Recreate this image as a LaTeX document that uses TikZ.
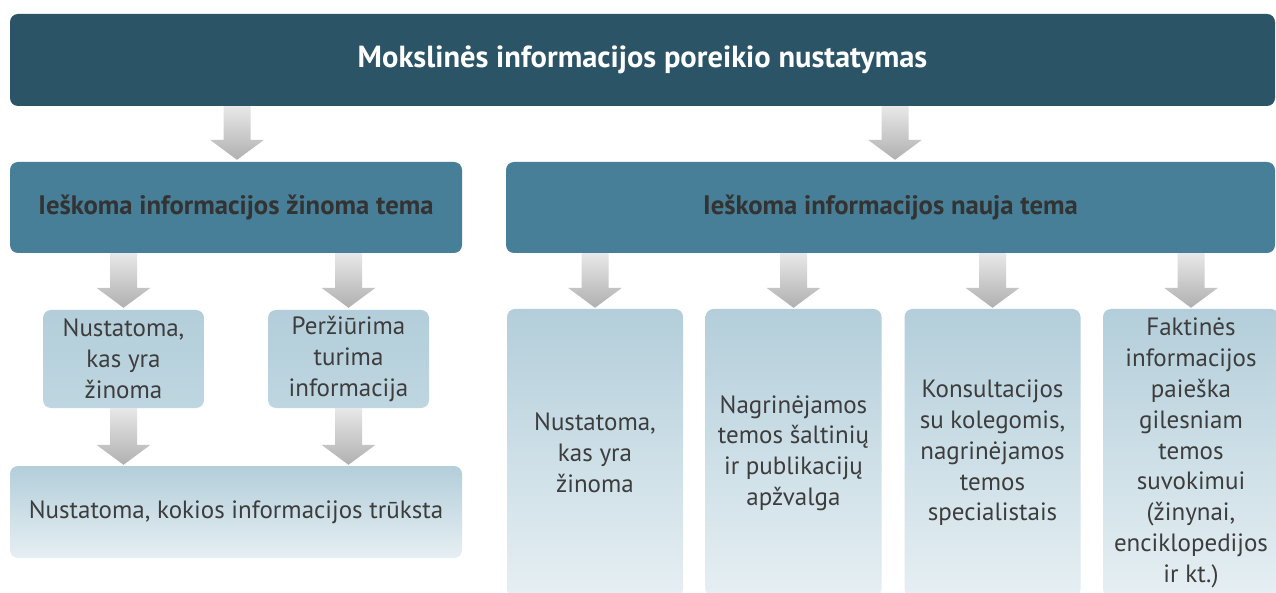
\documentclass[tikz,border=0pt]{standalone}
\usepackage{fontspec}
\setmainfont{PT Sans}
\usetikzlibrary{calc}
\definecolor{bannerc}{HTML}{2C5467}
\definecolor{secc}{HTML}{467F97}
\definecolor{sectext}{HTML}{333333}
\definecolor{bodytext}{HTML}{3D3D3D}
\definecolor{lighttop}{HTML}{B3CEDA}
\definecolor{lightbot}{HTML}{E6EFF3}
\definecolor{smalltop}{HTML}{B3CEDA}
\definecolor{smallbot}{HTML}{BED6E0}
\definecolor{arrtop}{HTML}{E8E8E8}
\definecolor{arrbot}{HTML}{B0B0B0}
\tikzset{
  bannerbox/.style={fill=bannerc, rounded corners=8pt, inner sep=0pt, text=white,
    font=\fontsize{30.5}{34}\selectfont\bfseries},
  secbox/.style={fill=secc, rounded corners=8pt, inner sep=0pt, text=sectext,
    font=\fontsize{26.7}{30}\selectfont\bfseries},
  smallbox/.style={top color=smalltop, bottom color=smallbot, rounded corners=8pt, inner sep=0pt,
    text=bodytext, align=center, font=\fontsize{25}{31}\selectfont},
  widebox/.style={top color=lighttop, bottom color=lightbot, rounded corners=8pt, inner sep=0pt,
    text=bodytext, align=center, font=\fontsize{25}{31}\selectfont},
  tallbox/.style={top color=lighttop, bottom color=lightbot, rounded corners=8pt, inner sep=0pt,
    text=bodytext, align=center, minimum width=176pt, minimum height=288pt,
    font=\fontsize{25}{30.8}\selectfont},
  arrowfill/.style={top color=arrtop, bottom color=arrbot}
}
% block arrow from point #1 (top of shaft) down to point #2 (tip)
\newcommand\blockarrow[2]{%
  \shade[arrowfill] let \p1=#1, \p2=#2 in
    (\x1-13.5pt,\y1) -- (\x1+13.5pt,\y1) -- (\x1+13.5pt,\y2+20pt) -- (\x1+27pt,\y2+20pt)
    -- (\x1,\y2) -- (\x1-27pt,\y2+20pt) -- (\x1-13.5pt,\y2+20pt) -- cycle;}
\begin{document}
\begin{tikzpicture}[x=1pt,y=-1pt]
\useasboundingbox (0,0) rectangle (1276,593);
\clip (0,0) rectangle (1276,593);
\fill[white] (0,0) rectangle (1276,593);

\node[bannerbox, minimum width=1265pt, minimum height=92pt] (top) at (642.5,60)
  {Mokslinės informacijos poreikio nustatymas};

\node[secbox, minimum width=452pt, minimum height=91pt] (l2) at (236,207.5)
  {Ieškoma informacijos žinoma tema};
\node[secbox, minimum width=769pt, minimum height=91pt] (r2) at (890.5,207.5)
  {Ieškoma informacijos nauja tema};

\node[smallbox, minimum width=161pt, minimum height=98pt] (b1) at (123.5,359)
  {Nustatoma,\\kas yra\\žinoma};
\node[smallbox, minimum width=161pt, minimum height=98pt] (b2) at (348.5,359)
  {Peržiūrima\\turima\\informacija};
\node[widebox, minimum width=452pt, minimum height=92pt] (b3) at (236,512)
  {Nustatoma, kokios informacijos trūksta};

\node[tallbox] (ra) at (595,453) {Nustatoma,\\kas yra\\žinoma};
\node[tallbox] (rb) at (793.5,453) {Nagrinėjamos\\temos šaltinių\\ir publikacijų\\apžvalga};
\node[tallbox] (rc) at (992.5,453) {Konsultacijos\\su kolegomis,\\nagrinėjamos\\temos\\specialistais};
\node[tallbox] (rd) at (1191,453) {Faktinės\\informacijos\\paieška\\gilesniam\\temos\\suvokimui\\(žinynai,\\enciklopedijos\\ir kt.)};

\blockarrow{($(l2.north |- top.south)+(1,0)$)}{($(l2.north)+(1,-2)$)}
\blockarrow{($(r2.north |- top.south)+(4.5,0)$)}{($(r2.north)+(4.5,-2)$)}

\blockarrow{(b1.north |- l2.south)}{($(b1.north)+(0,-2)$)}
\blockarrow{(b2.north |- l2.south)}{($(b2.north)+(0,-2)$)}
\blockarrow{(b1.south)}{($(b1.south |- b3.north)+(0,-1)$)}
\blockarrow{(b2.south)}{($(b2.south |- b3.north)+(0,-1)$)}

\blockarrow{(ra.north |- r2.south)}{($(ra.north)+(0,-1)$)}
\blockarrow{(rb.north |- r2.south)}{($(rb.north)+(0,-1)$)}
\blockarrow{(rc.north |- r2.south)}{($(rc.north)+(0,-1)$)}
\blockarrow{(rd.north |- r2.south)}{($(rd.north)+(0,-1)$)}
\end{tikzpicture}
\end{document}
